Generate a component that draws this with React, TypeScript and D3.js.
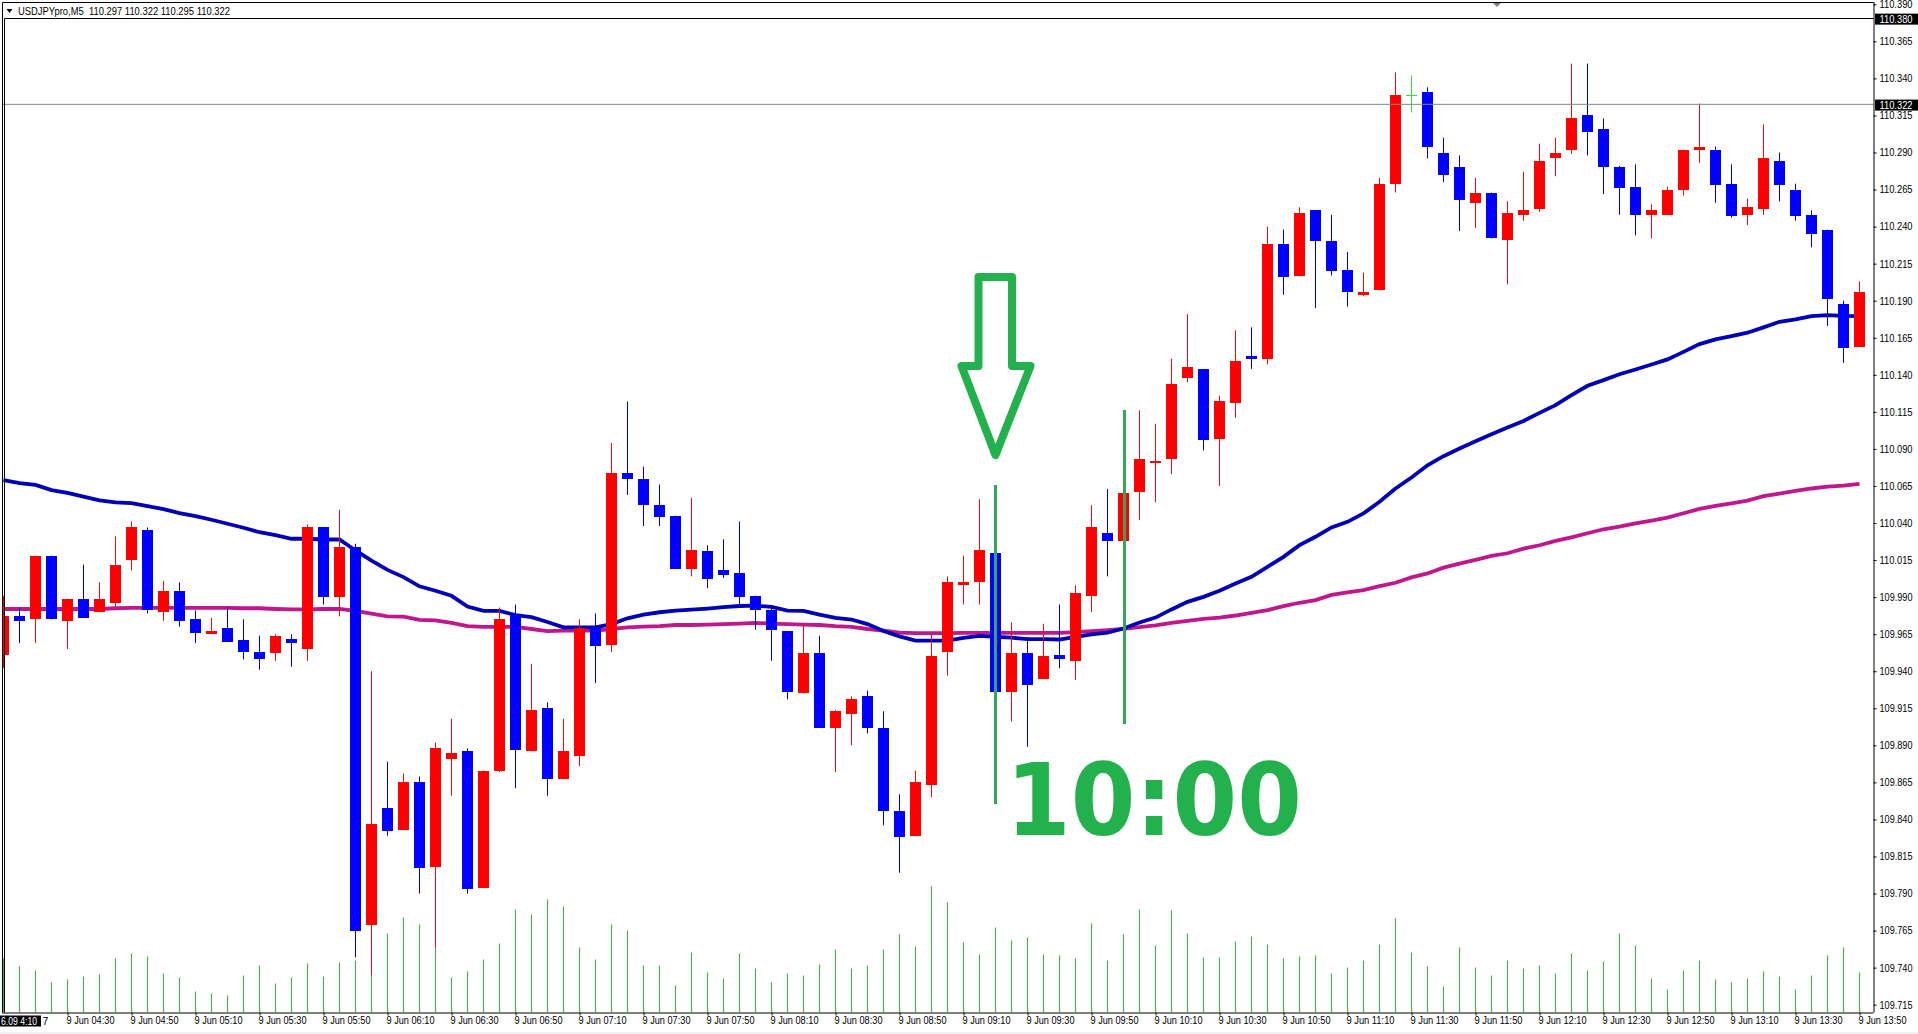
import { useEffect, useRef } from "react";
import * as d3 from "d3";

const WIDTH = 1918;
const HEIGHT = 1034;

const opens = [
  109.951, 109.977, 109.975, 110.018, 109.974, 109.989, 109.98, 109.986, 110.015, 110.035,
  109.98, 109.994, 109.975, 109.966, 109.969, 109.961, 109.953, 109.952, 109.962, 109.955,
  110.037, 109.99, 110.024, 109.769, 109.848, 109.833, 109.865, 109.808, 109.881, 109.886,
  109.794, 109.873, 109.978, 109.886, 109.915, 109.867, 109.883, 109.969, 109.958, 110.074,
  110.07, 110.052, 110.045, 110.009, 110.021, 110.008, 110.006, 109.991, 109.981, 109.967,
  109.925, 109.952, 109.902, 109.911, 109.923, 109.902, 109.846, 109.829, 109.863, 109.953,
  109.999, 110.0, 110.02, 109.926, 109.952, 109.935, 109.951, 109.947, 109.991, 110.033,
  110.028, 110.061, 110.081, 110.083, 110.138, 110.144, 110.097, 110.121, 110.153, 110.151,
  110.228, 110.207, 110.251, 110.23, 110.211, 110.194, 110.197, 110.269, 110.329, 110.331,
  110.29, 110.28, 110.256, 110.263, 110.231, 110.248, 110.252, 110.286, 110.292, 110.315,
  110.306, 110.28, 110.267, 110.248, 110.248, 110.265, 110.292, 110.292, 110.269, 110.248,
  110.252, 110.284, 110.265, 110.248, 110.238, 110.188, 110.159,
];
const highs = [
  109.991, 109.983, 110.018, 110.018, 109.989, 110.012, 110.0, 110.031, 110.041, 110.037,
  110.001, 110.0, 109.981, 109.976, 109.983, 109.975, 109.964, 109.965, 109.965, 110.039,
  110.037, 110.049, 110.026, 109.94, 109.879, 109.871, 109.869, 109.892, 109.908, 109.888,
  109.873, 109.983, 109.985, 109.945, 109.919, 109.908, 109.975, 109.979, 110.094, 110.122,
  110.078, 110.066, 110.045, 110.057, 110.025, 110.029, 110.041, 109.991, 109.983, 109.967,
  109.972, 109.964, 109.914, 109.923, 109.927, 109.913, 109.857, 109.873, 109.966, 110.004,
  110.018, 110.056, 110.02, 109.973, 109.963, 109.972, 109.985, 109.998, 110.052, 110.063,
  110.06, 110.116, 110.107, 110.151, 110.181, 110.144, 110.126, 110.17, 110.172, 110.24,
  110.238, 110.253, 110.251, 110.248, 110.223, 110.209, 110.273, 110.344, 110.342, 110.334,
  110.3, 110.288, 110.273, 110.263, 110.257, 110.277, 110.296, 110.3, 110.35, 110.35,
  110.313, 110.281, 110.282, 110.255, 110.267, 110.292, 110.323, 110.294, 110.282, 110.259,
  110.309, 110.29, 110.269, 110.251, 110.238, 110.19, 110.203,
];
const lows = [
  109.942, 109.959, 109.959, 109.975, 109.955, 109.976, 109.98, 109.983, 110.008, 109.979,
  109.974, 109.97, 109.959, 109.966, 109.96, 109.948, 109.941, 109.947, 109.943, 109.947,
  109.985, 109.977, 109.747, 109.735, 109.829, 109.833, 109.79, 109.753, 109.856, 109.79,
  109.794, 109.872, 109.861, 109.886, 109.856, 109.867, 109.876, 109.932, 109.953, 110.059,
  110.038, 110.038, 110.009, 110.004, 109.996, 110.003, 109.984, 109.968, 109.947, 109.921,
  109.925, 109.902, 109.872, 109.89, 109.898, 109.836, 109.804, 109.829, 109.855, 109.937,
  109.985, 109.985, 109.926, 109.906, 109.889, 109.935, 109.942, 109.934, 109.98, 110.004,
  110.028, 110.042, 110.054, 110.073, 110.135, 110.089, 110.065, 110.111, 110.144, 110.147,
  110.194, 110.207, 110.185, 110.207, 110.186, 110.193, 110.197, 110.263, 110.317, 110.286,
  110.27, 110.237, 110.239, 110.232, 110.201, 110.244, 110.25, 110.274, 110.289, 110.288,
  110.262, 110.248, 110.234, 110.232, 110.248, 110.261, 110.283, 110.256, 110.246, 110.241,
  110.248, 110.257, 110.244, 110.226, 110.173, 110.148, 110.159,
];
const closes = [
  109.977, 109.974, 110.018, 109.975, 109.989, 109.976, 109.989, 110.012, 110.037, 109.981,
  109.994, 109.974, 109.966, 109.967, 109.96, 109.953, 109.948, 109.964, 109.959, 110.037,
  109.99, 110.024, 109.765, 109.837, 109.832, 109.865, 109.807, 109.888, 109.885, 109.793,
  109.873, 109.975, 109.887, 109.914, 109.867, 109.886, 109.969, 109.957, 110.074, 110.07,
  110.052, 110.044, 110.009, 110.022, 110.002, 110.005, 109.99, 109.981, 109.968, 109.926,
  109.952, 109.902, 109.913, 109.921, 109.902, 109.846, 109.828, 109.865, 109.95, 110.0,
  110.0, 110.022, 109.926, 109.952, 109.931, 109.95, 109.948, 109.993, 110.037, 110.028,
  110.06, 110.083, 110.082, 110.134, 110.145, 110.096, 110.122, 110.149, 110.151, 110.228,
  110.206, 110.249, 110.23, 110.21, 110.196, 110.196, 110.269, 110.329, 110.329, 110.294,
  110.275, 110.258, 110.263, 110.232, 110.249, 110.251, 110.284, 110.29, 110.313, 110.304,
  110.28, 110.266, 110.248, 110.251, 110.265, 110.292, 110.294, 110.268, 110.247, 110.253,
  110.286, 110.268, 110.247, 110.235, 110.191, 110.158, 110.196,
];
const tickVolumes = [
  54, 46, 42, 30, 33, 36, 38, 54, 59, 56,
  39, 35, 21, 19, 17, 37, 47, 29, 35, 49,
  36, 50, 52, 38, 79, 95, 88, 64, 35, 41,
  53, 69, 103, 98, 113, 106, 65, 53, 88, 82,
  47, 47, 27, 60, 40, 34, 59, 44, 30, 39,
  37, 48, 63, 44, 47, 63, 78, 66, 126, 110,
  70, 58, 85, 72, 75, 58, 57, 54, 89, 52,
  78, 103, 67, 102, 79, 55, 55, 71, 76, 68,
  54, 56, 57, 39, 45, 52, 68, 94, 60, 46,
  26, 65, 45, 37, 52, 44, 47, 39, 59, 42,
  51, 79, 67, 34, 23, 42, 52, 33, 30, 34,
  41, 36, 23, 37, 57, 65, 40,
];
const fastMa = [
  110.0689, 110.0669, 110.0657, 110.0622, 110.0603, 110.0578, 110.0553, 110.0539, 110.0534, 110.0514,
  110.0494, 110.0467, 110.0447, 110.0422, 110.0395, 110.0368, 110.0338, 110.0319, 110.0294, 110.0294,
  110.0289, 110.0289, 110.0215, 110.0146, 110.0084, 110.0035, 109.9973, 109.9943, 109.9909, 109.9837,
  109.9807, 109.9807, 109.9779, 109.9765, 109.9732, 109.9696, 109.9696, 109.9696, 109.9718, 109.9757,
  109.9782, 109.9798, 109.9809, 109.9815, 109.9823, 109.9832, 109.984, 109.9843, 109.9834, 109.9809,
  109.9807, 109.9782, 109.976, 109.9749, 109.9718, 109.9671, 109.9635, 109.9607, 109.9607, 109.9607,
  109.9625, 109.9639, 109.9632, 109.9627, 109.9616, 109.9616, 109.9614, 109.9632, 109.9648, 109.9661,
  109.9688, 109.9729, 109.9762, 109.9817, 109.9868, 109.9902, 109.9943, 109.9992, 110.0037, 110.0104,
  110.0172, 110.0251, 110.0307, 110.037, 110.0408, 110.0465, 110.0543, 110.0633, 110.0707, 110.079,
  110.0851, 110.0903, 110.0952, 110.0999, 110.1044, 110.1089, 110.1143, 110.1195, 110.1263, 110.1326,
  110.1364, 110.1404, 110.1436, 110.147, 110.1504, 110.1555, 110.1607, 110.1639, 110.1661, 110.1684,
  110.172, 110.1758, 110.1774, 110.1796, 110.1803, 110.1798, 110.1796,
];
const slowMa = [
  109.982, 109.982, 109.982, 109.982, 109.982, 109.982, 109.982, 109.9825, 109.9827, 109.9827,
  109.9827, 109.9827, 109.9827, 109.9827, 109.9827, 109.9825, 109.9825, 109.982, 109.9817, 109.9817,
  109.982, 109.982, 109.9807, 109.9788, 109.977, 109.9768, 109.9746, 109.9743, 109.9726, 109.9704,
  109.9699, 109.9699, 109.9699, 109.9685, 109.9671, 109.9674, 109.9674, 109.9674, 109.9685, 109.9696,
  109.9701, 109.9704, 109.9712, 109.9712, 109.9715, 109.9718, 109.9721, 109.9726, 109.9721, 109.9718,
  109.9715, 109.9712, 109.9704, 109.9699, 109.9685, 109.9674, 109.966, 109.9657, 109.9657, 109.9657,
  109.9659, 109.9659, 109.9659, 109.9659, 109.9659, 109.9659, 109.9659, 109.9664, 109.967, 109.9677,
  109.9686, 109.9697, 109.9709, 109.9727, 109.974, 109.9754, 109.9762, 109.9776, 109.9794, 109.9812,
  109.9839, 109.9862, 109.988, 109.9915, 109.9932, 109.9947, 109.9974, 109.9997, 110.0033, 110.006,
  110.0099, 110.0126, 110.0151, 110.0178, 110.0196, 110.0227, 110.025, 110.0279, 110.0303, 110.0331,
  110.0358, 110.0376, 110.0398, 110.0416, 110.0436, 110.0466, 110.0495, 110.0515, 110.0533, 110.0551,
  110.0581, 110.0599, 110.0617, 110.0633, 110.0646, 110.0653, 110.0664,
];
const priceTicks = [
  110.39, 110.365, 110.34, 110.315, 110.29, 110.265, 110.24, 110.215, 110.19, 110.165,
  110.14, 110.115, 110.09, 110.065, 110.04, 110.015, 109.99, 109.965, 109.94, 109.915,
  109.89, 109.865, 109.84, 109.815, 109.79, 109.765, 109.74, 109.715,
];
const timeTickBars = [
  4, 8, 12, 16, 20, 24, 28, 32, 36, 40, 44, 48, 52, 56, 60, 64, 68, 72, 76, 80, 84, 88, 92, 96, 100, 104, 108, 112, 116,
];
const timeLabels = [
  "9 Jun 04:30", "9 Jun 04:50", "9 Jun 05:10", "9 Jun 05:30", "9 Jun 05:50", "9 Jun 06:10", "9 Jun 06:30", "9 Jun 06:50",
  "9 Jun 07:10", "9 Jun 07:30", "9 Jun 07:50", "9 Jun 08:10", "9 Jun 08:30", "9 Jun 08:50", "9 Jun 09:10", "9 Jun 09:30",
  "9 Jun 09:50", "9 Jun 10:10", "9 Jun 10:30", "9 Jun 10:50", "9 Jun 11:10", "9 Jun 11:30", "9 Jun 11:50", "9 Jun 12:10",
  "9 Jun 12:30", "9 Jun 12:50", "9 Jun 13:10", "9 Jun 13:30", "9 Jun 13:50",
];
const boxedPrices = [110.38, 110.322];
const lastPriceLine = 110.3225;

const AXIS_FONT = "Liberation Sans, Arial, sans-serif";
const AXIS_SIZE = 10.5;
const GREEN = "#22b14c";

const App = () => {
  const svgRef = useRef<SVGSVGElement>(null);

  useEffect(() => {
    if (!svgRef.current) return;
    const svg = d3.select(svgRef.current);
    svg.selectAll("*").remove();

    const axisX = 1873.5;
    const axisY = 1012.5;

    const x = d3.scaleLinear().domain([0, 116]).range([3.5, 1859.5]);
    const y = d3.scaleLinear().domain([109.715, 110.39]).range([1004.7, 4.3]);
    const volumeY = d3.scaleLinear().domain([0, 130]).range([axisY, axisY - 130]);

    svg.append("rect").attr("width", WIDTH).attr("height", HEIGHT).attr("fill", "#fff");
    svg.append("rect").attr("y", 1032).attr("width", WIDTH).attr("height", 2).attr("fill", "#f0f0f0");

    svg
      .append("defs")
      .append("clipPath")
      .attr("id", "plot")
      .append("rect")
      .attr("x", 3)
      .attr("y", 18)
      .attr("width", axisX - 3)
      .attr("height", axisY - 18);

    const plot = svg.append("g").attr("clip-path", "url(#plot)");

    // volume sticks
    plot
      .append("g")
      .selectAll("line")
      .data(tickVolumes)
      .join("line")
      .attr("x1", (_, i) => x(i))
      .attr("x2", (_, i) => x(i))
      .attr("y1", axisY)
      .attr("y2", (d) => volumeY(d))
      .attr("stroke", "#4cae4c")
      .attr("stroke-width", 1.2);

    // moving averages sit under the candles
    const maLine = d3
      .line<number>()
      .x((_, i) => x(i))
      .y((d) => y(d));
    plot
      .append("path")
      .attr("d", maLine(slowMa))
      .attr("fill", "none")
      .attr("stroke", "#c0188c")
      .attr("stroke-width", 3.8);
    plot
      .append("path")
      .attr("d", maLine(fastMa))
      .attr("fill", "none")
      .attr("stroke", "#0000b8")
      .attr("stroke-width", 3.8);

    const candleColor = (i: number) =>
      closes[i] > opens[i] ? "#ff0000" : closes[i] < opens[i] ? "#0000ff" : "#33e033";
    const wickColor = (i: number) =>
      closes[i] > opens[i] ? "#e01010" : closes[i] < opens[i] ? "#0000d0" : "#33e033";

    const candles = plot.append("g").selectAll("g").data(opens).join("g");
    candles
      .append("line")
      .attr("x1", (_, i) => x(i))
      .attr("x2", (_, i) => x(i))
      .attr("y1", (_, i) => y(highs[i]))
      .attr("y2", (_, i) => y(lows[i]))
      .attr("stroke", (_, i) => wickColor(i))
      .attr("stroke-width", 1);
    candles
      .append("rect")
      .attr("x", (_, i) => x(i) - 5.5)
      .attr("width", 11)
      .attr("y", (d, i) => y(Math.max(d, closes[i])))
      .attr("height", (d, i) => {
        if (d === closes[i]) return 1;
        return Math.max(2.5, Math.abs(y(d) - y(closes[i])));
      })
      .attr("fill", (_, i) => candleColor(i))
      .attr("shape-rendering", "crispEdges");

    // last price line
    svg
      .append("line")
      .attr("x1", 3)
      .attr("x2", axisX)
      .attr("y1", y(lastPriceLine))
      .attr("y2", y(lastPriceLine))
      .attr("stroke", "#7d8a8a")
      .attr("stroke-width", 1);

    // green annotations
    const marks = [
      { bar: 62, dx: 0, top: 110.0656, bottom: 109.8504 },
      { bar: 70, dx: 1, top: 110.1163, bottom: 109.9044 },
    ];
    svg
      .append("g")
      .selectAll("line")
      .data(marks)
      .join("line")
      .attr("x1", (d) => x(d.bar) + d.dx)
      .attr("x2", (d) => x(d.bar) + d.dx)
      .attr("y1", (d) => y(d.top))
      .attr("y2", (d) => y(d.bottom))
      .attr("stroke", "#2fa85a")
      .attr("stroke-width", 3);

    const tipX = x(62);
    const tipY = y(110.0859);
    const arrow: [number, number][] = [
      [-17, -178],
      [16.5, -178],
      [16.5, -89],
      [35, -89],
      [0, 0],
      [-34, -89],
      [-17, -89],
    ];
    svg
      .append("path")
      .attr("d", d3.line()(arrow.map(([dx, dy]) => [tipX + dx, tipY + dy])) + "Z")
      .attr("fill", "none")
      .attr("stroke", GREEN)
      .attr("stroke-width", 8)
      .attr("stroke-linejoin", "round");

    svg
      .append("text")
      .attr("x", 1006)
      .attr("y", 835)
      .attr("textLength", 296)
      .attr("lengthAdjust", "spacingAndGlyphs")
      .attr("font-family", "DejaVu Sans")
      .attr("font-weight", "bold")
      .attr("font-size", 100)
      .attr("fill", GREEN)
      .text("10:00");

    // header strip and window frame
    svg
      .append("path")
      .attr("d", "M2.5 1012.5V2.5H1873.5M4.5 1012.5V18.5H1873.5")
      .attr("fill", "none")
      .attr("stroke", "#000")
      .attr("stroke-width", 1);
    svg.append("path").attr("d", "M6.5 9H12.5L9.5 13Z").attr("fill", "#000");
    svg.append("path").attr("d", "M1493 3H1501L1497 7Z").attr("fill", "#808080");
    svg
      .append("text")
      .attr("x", 18)
      .attr("y", 14.5)
      .attr("font-family", AXIS_FONT)
      .attr("font-size", AXIS_SIZE)
      .attr("textLength", 212)
      .attr("lengthAdjust", "spacingAndGlyphs")
      .attr("fill", "#000")
      .attr("xml:space", "preserve")
      .text("USDJPYpro,M5  110.297 110.322 110.295 110.322");

    // price axis
    const priceAxis = svg
      .append("g")
      .attr("transform", `translate(${axisX},0)`)
      .call(
        d3
          .axisRight(y)
          .tickValues(priceTicks)
          .tickFormat((d) => d3.format(".3f")(d as number))
          .tickSize(3)
          .tickPadding(3)
      );
    priceAxis.select(".domain").attr("d", `M0.5,2V${axisY}`).attr("stroke", "#000");
    priceAxis
      .selectAll("text")
      .attr("font-family", AXIS_FONT)
      .attr("font-size", AXIS_SIZE)
      .attr("textLength", 33)
      .attr("lengthAdjust", "spacingAndGlyphs")
      .attr("fill", "#000");

    const boxes = svg.append("g").selectAll("g").data(boxedPrices).join("g");
    boxes
      .append("rect")
      .attr("x", 1875)
      .attr("y", (d) => y(d) - 5.5)
      .attr("width", 43)
      .attr("height", 11)
      .attr("fill", "#000");
    boxes
      .append("text")
      .attr("x", 1879.5)
      .attr("y", (d) => y(d) + 3.5)
      .attr("font-family", AXIS_FONT)
      .attr("font-size", AXIS_SIZE)
      .attr("textLength", 33)
      .attr("lengthAdjust", "spacingAndGlyphs")
      .attr("fill", "#fff")
      .text((d) => d3.format(".3f")(d));

    // time axis, labels start at the tick
    const timeAxis = svg
      .append("g")
      .attr("transform", `translate(0,${axisY})`)
      .call(
        d3
          .axisBottom(x)
          .tickValues(timeTickBars)
          .tickFormat((_, i) => timeLabels[i])
          .tickSize(3)
          .tickPadding(1.5)
      );
    timeAxis.select(".domain").attr("d", `M2,0.5H${axisX}`).attr("stroke", "#000");
    timeAxis
      .selectAll("text")
      .attr("text-anchor", "start")
      .attr("dx", -1.5)
      .attr("font-family", AXIS_FONT)
      .attr("font-size", AXIS_SIZE)
      .attr("textLength", 48)
      .attr("lengthAdjust", "spacingAndGlyphs")
      .attr("fill", "#000");

    svg.append("rect").attr("x", 0).attr("y", 1015.5).attr("width", 41).attr("height", 11).attr("fill", "#000");
    svg
      .append("text")
      .attr("x", 1)
      .attr("y", 1024.5)
      .attr("font-family", AXIS_FONT)
      .attr("font-size", AXIS_SIZE)
      .attr("textLength", 36)
      .attr("lengthAdjust", "spacingAndGlyphs")
      .attr("fill", "#fff")
      .text("6.09 4:10");
    svg
      .append("text")
      .attr("x", 42.5)
      .attr("y", 1024.5)
      .attr("font-family", AXIS_FONT)
      .attr("font-size", AXIS_SIZE)
      .attr("fill", "#000")
      .text("7");
  }, []);

  return (
    <svg
      ref={svgRef}
      width={WIDTH}
      height={HEIGHT}
      style={{ position: "fixed", left: 0, top: 0, display: "block" }}
    ></svg>
  );
};

export default App;
